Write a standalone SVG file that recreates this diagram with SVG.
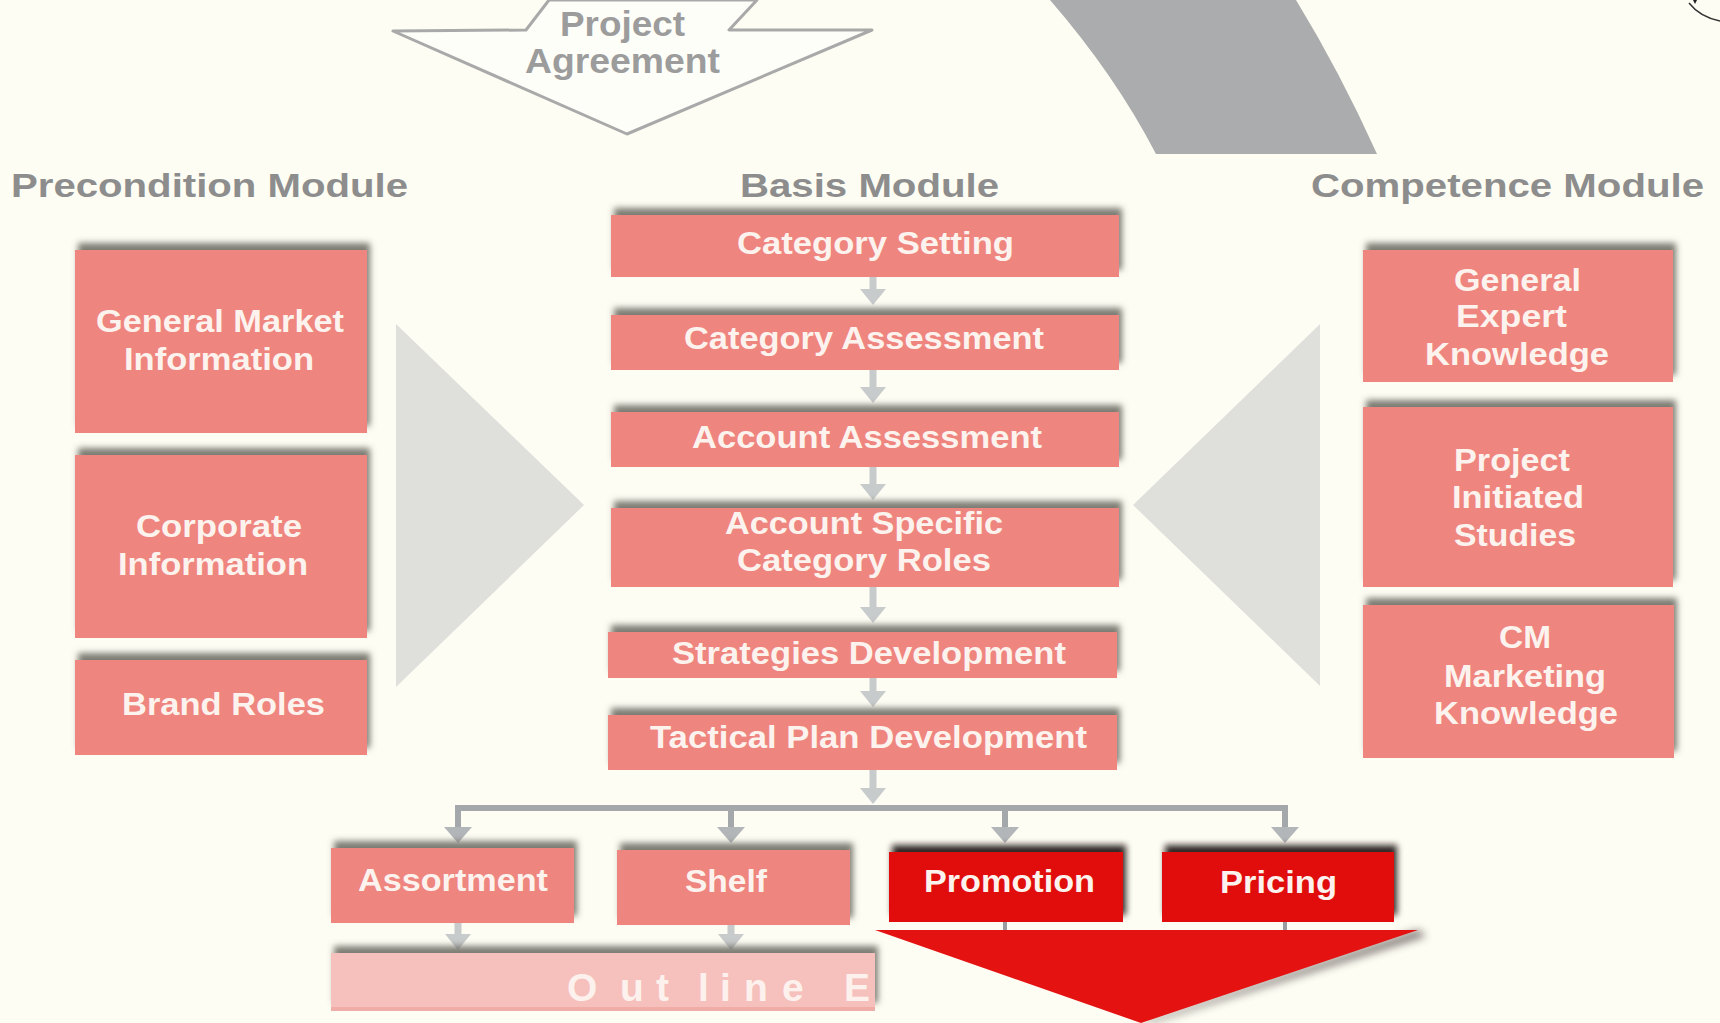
<svg xmlns="http://www.w3.org/2000/svg" width="1720" height="1023" viewBox="0 0 1720 1023">
<defs>
<style>
.bx{fill:#ef857f;filter:url(#sh)}
.rd{fill:#e10e10;filter:url(#shd)}
.t{font-family:"Liberation Sans",Arial,Helvetica,sans-serif;font-weight:bold;font-size:31px;fill:#fdf3ee}
.ti{font-family:"Liberation Sans",Arial,Helvetica,sans-serif;font-weight:bold;font-size:33px;fill:#8d8d8d}
.pa{font-family:"Liberation Sans",Arial,Helvetica,sans-serif;font-weight:bold;font-size:35px;fill:#9c9c9c}
.c1{stroke:#c8cbcb;stroke-width:7;fill:none;marker-end:url(#a1)}
.c2{stroke:#a5a8ab;stroke-width:6;fill:none;marker-end:url(#a2)}
.c3{stroke:#a5a8ab;stroke-width:6;fill:none}
</style>
<filter id="sh" x="-10%" y="-40%" width="125%" height="170%">
<feGaussianBlur in="SourceAlpha" stdDeviation="3"/>
<feOffset dx="3" dy="-7" result="b"/>
<feFlood flood-color="#66665e" flood-opacity="0.85"/>
<feComposite in2="b" operator="in"/>
<feMerge><feMergeNode/><feMergeNode in="SourceGraphic"/></feMerge>
</filter>
<filter id="shd" x="-10%" y="-40%" width="125%" height="170%">
<feGaussianBlur in="SourceAlpha" stdDeviation="3"/>
<feOffset dx="3" dy="-7" result="b"/>
<feFlood flood-color="#1a1010" flood-opacity="0.9"/>
<feComposite in2="b" operator="in"/>
<feMerge><feMergeNode/><feMergeNode in="SourceGraphic"/></feMerge>
</filter>
<filter id="bl" x="-20%" y="-20%" width="140%" height="140%"><feGaussianBlur stdDeviation="4"/></filter>
<marker id="a1" markerUnits="userSpaceOnUse" markerWidth="18" markerHeight="30" viewBox="0 -15 18 30" refX="6" refY="0" orient="auto"><path d="M0,-13 L16,0 L0,13 Z" fill="#c8cbcb"/></marker>
<marker id="a2" markerUnits="userSpaceOnUse" markerWidth="18" markerHeight="32" viewBox="0 -16 18 32" refX="6" refY="0" orient="auto"><path d="M0,-14 L16,0 L0,14 Z" fill="#b3b6b9"/></marker>
<clipPath id="oc"><rect x="331" y="940" width="544" height="80"/></clipPath>
</defs>
<rect width="1720" height="1023" fill="#fdfdf3"/>

<!-- background shapes -->
<path d="M1050,0 Q1115,75 1156,154 L1377,154 Q1340,72 1296,0 Z" fill="#abacae"/>
<path d="M1689,3 Q1700,17 1720,21" fill="none" stroke="#333" stroke-width="1.5"/>
<path d="M1693,0 L1697,0 L1695,4 Z" fill="#222"/>
<polygon points="396,324 584,505 396,687" fill="#dfe0dc"/>
<polygon points="1320,324 1133,505 1320,686" fill="#dfe0dc"/>

<g id="project-agreement">
<polygon points="393,31 526,30 549,0 757,0 729,30 872,30 627,134" fill="#fefef9" stroke="#a9a9a9" stroke-width="3" stroke-linejoin="round"/>
<text class="pa" x="560" y="36" textLength="125" lengthAdjust="spacingAndGlyphs">Project</text>
<text class="pa" x="525" y="73" textLength="195" lengthAdjust="spacingAndGlyphs">Agreement</text>
</g>

<g id="titles">
<text class="ti" x="11" y="197" textLength="397" lengthAdjust="spacingAndGlyphs">Precondition Module</text>
<text class="ti" x="740" y="197" textLength="259" lengthAdjust="spacingAndGlyphs">Basis Module</text>
<text class="ti" x="1311" y="197" textLength="393" lengthAdjust="spacingAndGlyphs">Competence Module</text>
</g>

<g id="connectors">
<line class="c1" x1="873" y1="277" x2="873" y2="295"/>
<line class="c1" x1="873" y1="370" x2="873" y2="393"/>
<line class="c1" x1="873" y1="467" x2="873" y2="490"/>
<line class="c1" x1="873" y1="587" x2="873" y2="613"/>
<line class="c1" x1="873" y1="678" x2="873" y2="697"/>
<line class="c3" x1="455" y1="808" x2="1288" y2="808"/>
<line class="c1" x1="873" y1="770" x2="873" y2="794"/>
<line class="c2" x1="458" y1="808" x2="458" y2="833"/>
<line class="c2" x1="731" y1="808" x2="731" y2="833"/>
<line class="c2" x1="1005" y1="808" x2="1005" y2="833"/>
<line class="c2" x1="1285" y1="808" x2="1285" y2="833"/>
<line class="c1" x1="458" y1="923" x2="458" y2="940"/>
<line class="c1" x1="731" y1="923" x2="731" y2="940"/>
<line x1="1005" y1="921" x2="1005" y2="930" stroke="#9a9da0" stroke-width="4"/>
<line x1="1285" y1="921" x2="1285" y2="930" stroke="#9a9da0" stroke-width="4"/>
</g>

<g id="general-market-information"><rect class="bx" x="75" y="250" width="292" height="183"/>
<text class="t" x="96" y="332" textLength="248" lengthAdjust="spacingAndGlyphs">General Market</text>
<text class="t" x="124" y="370" textLength="190" lengthAdjust="spacingAndGlyphs">Information</text></g>
<g id="corporate-information"><rect class="bx" x="75" y="455" width="292" height="183"/>
<text class="t" x="136" y="537" textLength="166" lengthAdjust="spacingAndGlyphs">Corporate</text>
<text class="t" x="118" y="575" textLength="190" lengthAdjust="spacingAndGlyphs">Information</text></g>
<g id="brand-roles"><rect class="bx" x="75" y="660" width="292" height="95"/>
<text class="t" x="122" y="715" textLength="203" lengthAdjust="spacingAndGlyphs">Brand Roles</text></g>

<g id="category-setting"><rect class="bx" x="611" y="215" width="508" height="62"/>
<text class="t" x="737" y="254" textLength="277" lengthAdjust="spacingAndGlyphs">Category Setting</text></g>
<g id="category-assessment"><rect class="bx" x="611" y="315" width="508" height="55"/>
<text class="t" x="684" y="349" textLength="360" lengthAdjust="spacingAndGlyphs">Category Assessment</text></g>
<g id="account-assessment"><rect class="bx" x="611" y="412" width="508" height="55"/>
<text class="t" x="692" y="448" textLength="350" lengthAdjust="spacingAndGlyphs">Account Assessment</text></g>
<g id="account-specific-category-roles"><rect class="bx" x="611" y="508" width="508" height="79"/>
<text class="t" x="725" y="534" textLength="278" lengthAdjust="spacingAndGlyphs">Account Specific</text>
<text class="t" x="737" y="571" textLength="254" lengthAdjust="spacingAndGlyphs">Category Roles</text></g>
<g id="strategies-development"><rect class="bx" x="608" y="632" width="509" height="46"/>
<text class="t" x="672" y="664" textLength="394" lengthAdjust="spacingAndGlyphs">Strategies Development</text></g>
<g id="tactical-plan-development"><rect class="bx" x="608" y="715" width="509" height="55"/>
<text class="t" x="650" y="748" textLength="437" lengthAdjust="spacingAndGlyphs">Tactical Plan Development</text></g>

<g id="general-expert-knowledge"><rect class="bx" x="1363" y="250" width="310" height="132"/>
<text class="t" x="1454" y="291" textLength="127" lengthAdjust="spacingAndGlyphs">General</text>
<text class="t" x="1456" y="327" textLength="111" lengthAdjust="spacingAndGlyphs">Expert</text>
<text class="t" x="1425" y="365" textLength="184" lengthAdjust="spacingAndGlyphs">Knowledge</text></g>
<g id="project-initiated-studies"><rect class="bx" x="1363" y="407" width="310" height="180"/>
<text class="t" x="1454" y="471" textLength="116" lengthAdjust="spacingAndGlyphs">Project</text>
<text class="t" x="1452" y="508" textLength="132" lengthAdjust="spacingAndGlyphs">Initiated</text>
<text class="t" x="1454" y="546" textLength="122" lengthAdjust="spacingAndGlyphs">Studies</text></g>
<g id="cm-marketing-knowledge"><rect class="bx" x="1363" y="605" width="311" height="153"/>
<text class="t" x="1499" y="648" textLength="52" lengthAdjust="spacingAndGlyphs">CM</text>
<text class="t" x="1444" y="687" textLength="162" lengthAdjust="spacingAndGlyphs">Marketing</text>
<text class="t" x="1434" y="724" textLength="184" lengthAdjust="spacingAndGlyphs">Knowledge</text></g>

<g id="assortment"><rect class="bx" x="331" y="848" width="243" height="75"/>
<text class="t" x="358" y="891" textLength="190" lengthAdjust="spacingAndGlyphs">Assortment</text></g>
<g id="shelf"><rect class="bx" x="617" y="850" width="233" height="75"/>
<text class="t" x="685" y="892" textLength="82" lengthAdjust="spacingAndGlyphs">Shelf</text></g>
<g id="promotion"><rect class="rd" x="889" y="852" width="234" height="70"/>
<text class="t" x="924" y="892" textLength="171" lengthAdjust="spacingAndGlyphs">Promotion</text></g>
<g id="pricing"><rect class="rd" x="1162" y="852" width="232" height="70"/>
<text class="t" x="1220" y="893" textLength="117" lengthAdjust="spacingAndGlyphs">Pricing</text></g>

<g id="outline">
<rect x="331" y="953" width="544" height="57" fill="#f6c1bc" filter="url(#sh)"/>
<rect x="331" y="1007" width="544" height="4" fill="#f0aca6"/>
<text class="t" clip-path="url(#oc)" style="font-size:39px;fill:#fdf1ee" y="1001" x="567 620 656 698 720 744 782 815 844">Outline E</text>
</g>

<g id="red-arrow">
<polygon points="1418,930 1141,1023 1150,1023 1426,936" fill="#5a5050" filter="url(#bl)" opacity="0.8"/>
<polygon points="875,930 1418,930 1141,1023" fill="#e51212"/>
</g>
</svg>
